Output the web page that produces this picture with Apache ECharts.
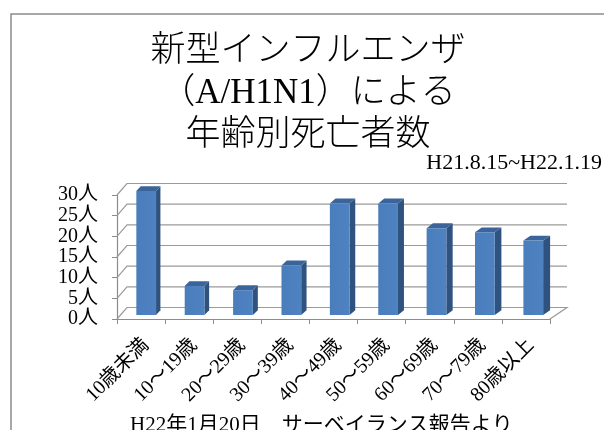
<!DOCTYPE html>
<html>
<head>
<meta charset="utf-8">
<script src="https://cdn.jsdelivr.net/npm/echarts@6/dist/echarts.min.js"></script>
<style>
  html, body { margin: 0; padding: 0; background: #fff; }
  #chart { width: 604px; height: 430px; }
</style>
</head>
<body>
<div id="chart"></div>
<script>
// 年齢区分
const categories = ['10歳未満', '10～19歳', '20～29歳', '30～39歳', '40～49歳', '50～59歳', '60～69歳', '70～79歳', '80歳以上']
// 死亡者数（人）
const deaths = [30, 7, 6, 12, 27, 27, 21, 20, 18]
// 縦軸の目盛り
const yTicks = [0, 5, 10, 15, 20, 25, 30]

const FONT = '"Liberation Serif", "Noto Sans CJK JP", serif'
// 3D の奥行き（左右で少し違う）
const DEPTH_DY = 11.5
const depthDx = (x, L, R) => 10 + 7 * (x - L) / (R - L)

// 奥の壁の目盛り線
const renderWall = (params, api) => {
  const cs = params.coordSys
  const L = cs.x
  const R = cs.x + cs.width
  const v = api.value(1)
  const y = api.coord([0, v])[1]
  const pts = [[L, y], [L + depthDx(L, L, R), y - DEPTH_DY], [R + depthDx(R, L, R), y - DEPTH_DY]]
  if (v === 0) pts.push([R, y])
  return {
    type: 'polyline',
    shape: { points: pts },
    style: { stroke: '#9a9a9a', lineWidth: 1.2, fill: null }
  }
}

// 立体の棒
const renderBar = (params, api) => {
  const cs = params.coordSys
  const L = cs.x
  const R = cs.x + cs.width
  const i = api.value(0)
  const c = api.coord([i, 0])[0]
  const band = api.size([1, 0])[0]
  const w = band * 0.41
  const dx = depthDx(c, L, R)
  const f = 0.35
  const d = 0.42
  const x0 = c - w / 2 + f * dx + 1.5
  const yT = api.coord([i, api.value(1)])[1] - f * DEPTH_DY
  const yB = api.coord([i, 0])[1] - f * DEPTH_DY
  const ox = d * dx
  const oy = d * DEPTH_DY
  return {
    type: 'group',
    children: [
      {
        type: 'polygon',
        shape: { points: [[x0 + w, yT], [x0 + w + ox, yT - oy], [x0 + w + ox, yB - oy], [x0 + w, yB]] },
        style: { fill: '#30527e' }
      },
      {
        type: 'polygon',
        shape: { points: [[x0, yT], [x0 + ox, yT - oy], [x0 + w + ox, yT - oy], [x0 + w, yT]] },
        style: { fill: '#3a649a' }
      },
      {
        type: 'rect',
        shape: { x: x0, y: yT, width: w, height: yB - yT },
        style: {
          fill: new echarts.graphic.LinearGradient(0, 0, 1, 0, [
            { offset: 0, color: '#4a7dbb' },
            { offset: 1, color: '#4f82c0' }
          ])
        }
      }
    ]
  }
}

const option = {
  animation: false,
  backgroundColor: '#fff',
  title: {
    text: '新型インフルエンザ\n（A/H1N1）による\n年齢別死亡者数',
    left: 308,
    top: 31,
    padding: 0,
    textAlign: 'center',
    textStyle: {
      fontFamily: FONT,
      fontSize: 35,
      fontWeight: 300,
      lineHeight: 42,
      color: '#000'
    }
  },
  graphic: [
    {
      type: 'rect',
      shape: { x: 11, y: 14, width: 700, height: 500 },
      style: { fill: null, stroke: '#8c8c8c', lineWidth: 1.5 },
      silent: true
    },
    {
      type: 'text',
      right: 2,
      top: 152,
      style: { text: 'H21.8.15~H22.1.19', font: '22px ' + FONT, fill: '#000' }
    },
    {
      type: 'text',
      left: 130,
      top: 415,
      style: { text: 'H22年1月20日　サーベイランス報告より', font: '21px ' + FONT, fill: '#000' }
    }
  ],
  grid: {
    left: 117,
    right: 54,
    top: 195,
    bottom: 111
  },
  xAxis: {
    type: 'category',
    data: categories,
    boundaryGap: true,
    axisLine: { lineStyle: { color: '#8c8c8c', width: 1.2 } },
    axisTick: { show: true, length: 5, lineStyle: { color: '#8c8c8c' } },
    axisLabel: {
      interval: 0,
      rotate: 45,
      margin: 28,
      padding: [0, -7, 0, 0],
      fontFamily: FONT,
      fontSize: 20,
      color: '#000'
    },
    splitLine: { show: false }
  },
  yAxis: {
    type: 'value',
    min: 0,
    max: 30,
    interval: 5,
    axisLine: { show: true, lineStyle: { color: '#8c8c8c', width: 1.2 } },
    axisTick: { show: true, length: 5, lineStyle: { color: '#8c8c8c' } },
    axisLabel: {
      formatter: '{value}人',
      margin: 19,
      fontFamily: FONT,
      fontSize: 20,
      color: '#000'
    },
    splitLine: { show: false }
  },
  series: [
    {
      type: 'custom',
      name: 'wall',
      silent: true,
      renderItem: renderWall,
      data: yTicks.map(v => [0, v]),
      z: 1
    },
    {
      type: 'custom',
      name: '死亡者数',
      renderItem: renderBar,
      data: deaths.map((v, i) => [i, v]),
      z: 2
    }
  ]
}

const chart = echarts.init(document.getElementById('chart'))
chart.setOption(option)
</script>
</body>
</html>
